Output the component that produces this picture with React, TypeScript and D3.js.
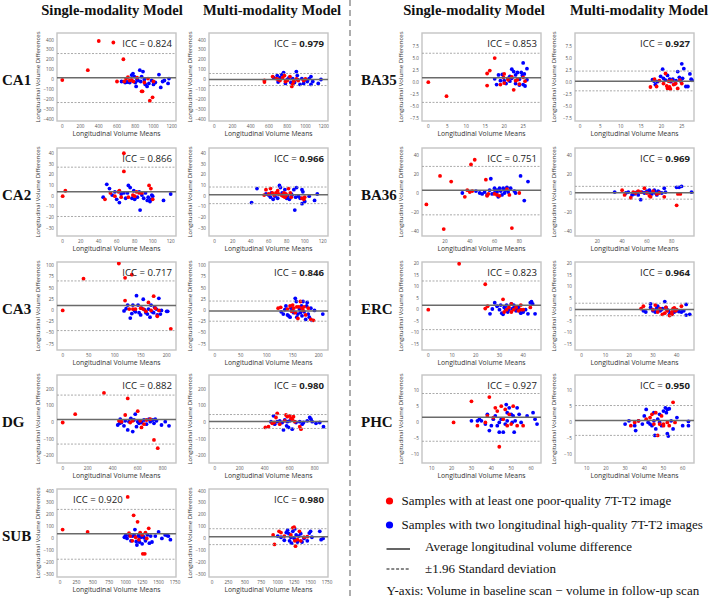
import React from 'react';
import * as d3 from 'd3';

type P = [number, number];

// ---------- Data ----------
const ICC_SINGLE = ['0.824', '0.866', '0.717', '0.882', '0.920', '0.853', '0.751', '0.823', '0.927'];
const ICC_MULTI = ['0.979', '0.966', '0.846', '0.980', '0.980', '0.927', '0.969', '0.964', '0.950'];
const REGIONS = ['CA1', 'CA2', 'CA3', 'DG', 'SUB', 'BA35', 'BA36', 'ERC', 'PHC'];

// [mean, +1.96 SD, -1.96 SD]
const STATS_SINGLE: [number, number, number][] = [
  [17, 263, -233], [4, 27, -19], [11, 66, -45], [18, 165, -130], [40, 245, -175],
  [0.9, 6.0, -4.2], [3, 28, -23], [1.9, 12.4, -8.6], [1.6, 8.9, -5.8],
];
const STATS_MULTI: [number, number, number][] = [
  [0, 61, -61], [1.3, 8.5, -7], [-1.5, 21, -24], [6, 48, -36], [15, 82, -52],
  [0.2, 2.3, -1.8], [0.3, 7, -6.5], [0.1, 2.8, -2.6], [0.6, 5.2, -4],
];

// axis domains and ticks
const X_DOM_SINGLE: P[] = [[-58, 1247], [-6.3, 125.9], [-11, 218], [-45.6, 906], [-45.7, 1765], [-1.66, 29.7], [1.45, 97.5], [-2.65, 47.5], [5.1, 65]];
const X_DOM_MULTI: P[] = [[-58, 1247], [-6.3, 125.9], [-11, 218], [-45.6, 906], [-45.7, 1765], [-1.23, 28.0], [2.0, 98], [-2.8, 47.3], [3.9, 65.9]];
const Y_DOM: P[] = [[-420, 471], [-37.2, 44.9], [-88.4, 108.3], [-244, 286], [-325, 417], [-8.06, 10.2], [-45.3, 47.4], [-17.4, 20.6], [-12.5, 14.6]];
const X_TICKS: number[][] = [
  [0, 200, 400, 600, 800, 1000, 1200], [0, 20, 40, 60, 80, 100, 120], [0, 50, 100, 150, 200],
  [0, 200, 400, 600, 800], [0, 250, 500, 750, 1000, 1250, 1500, 1750], [0, 5, 10, 15, 20, 25],
  [20, 40, 60, 80], [0, 10, 20, 30, 40], [10, 20, 30, 40, 50, 60],
];
const Y_TICKS: number[][] = [
  [-400, -300, -200, -100, 0, 100, 200, 300, 400], [-30, -20, -10, 0, 10, 20, 30, 40], [-75, -50, -25, 0, 25, 50, 75, 100],
  [-200, -100, 0, 100, 200], [-300, -200, -100, 0, 100, 200, 300, 400], [-7.5, -5, -2.5, 0, 2.5, 5, 7.5],
  [-40, -20, 0, 20, 40], [-15, -10, -5, 0, 5, 10, 15, 20], [-10, -5, 0, 5, 10],
];

// CA1
const CA1_S_RED: P[] = [[0,-5],[280,95],[400,390],[560,375],[670,205],[600,-20],[680,-20],[700,10],[720,25],[740,-10],[760,-5],[780,-20],[820,20],[870,-120],[880,-120],[900,-30],[940,10],[960,-215],[990,-180],[1000,-20]];
const CA1_S_BLUE: P[] = [[650,-20],[690,-30],[700,-25],[720,-25],[740,-30],[760,45],[775,60],[790,30],[800,-30],[810,-70],[820,0],[830,-10],[850,95],[860,-20],[870,30],[885,80],[900,0],[910,-50],[930,-70],[950,-40],[980,-10],[1000,-50],[1020,-30],[1060,50],[1080,-80],[1100,-20],[1120,-10],[1160,-40],[1170,10]];
const CA1_M_RED: P[] = [[550,-10],[550,-25],[640,30],[680,10],[700,0],[720,-10],[750,20],[770,40],[780,-20],[800,-10],[830,30],[850,-70],[860,-50],[870,-20],[900,5],[920,-10],[980,-10],[1000,5]];
const CA1_M_BLUE: P[] = [[650,20],[690,40],[700,-25],[720,20],[740,50],[760,70],[780,-40],[800,0],[820,20],[840,-30],[860,10],[880,-30],[900,80],[910,40],[920,-5],[940,-50],[960,10],[980,-40],[1000,0],[1020,-20],[1040,10],[1060,-50],[1060,30],[1080,-20],[1140,-40],[1170,0]];
// CA2
const CA2_S_RED: P[] = [[0,0],[3,5],[68,40],[68,23],[47,-3],[53,3],[58,0],[62,4],[63,5],[65,-1],[73,-1],[78,1],[80,0],[82,4],[85,3],[88,3],[96,10],[98,7],[100,-3]];
const CA2_S_BLUE: P[] = [[45,-1],[49,11],[52,7],[55,1],[58,4],[60,-3],[63,-6],[65,2],[68,3],[70,-2],[72,3],[73,10],[75,8],[77,-2],[79,5],[80,-3],[83,-1],[85,4],[86,-13],[88,1],[90,-2],[92,3],[94,-4],[95,-1],[97,-5],[98,-3],[99,1],[100,0],[112,-4],[120,2]];
const CA2_M_RED: P[] = [[55,1],[57,6],[60,2],[62,7],[64,3],[66,1],[68,3],[70,5],[71,2],[74,1],[76,0],[77,3],[78,-1],[79,2],[80,1],[82,7],[84,3],[85,-1],[97,-2],[99,-3],[100,-1]];
const CA2_M_BLUE: P[] = [[41,-6],[47,7],[57,2],[60,1],[62,-1],[63,3],[65,-3],[67,0],[70,-2],[72,10],[73,8],[75,3],[76,2],[78,6],[80,-2],[81,0],[83,-3],[85,2],[86,1],[88,6],[89,-13],[90,-1],[91,8],[93,0],[95,-2],[97,6],[97,-7],[98,4],[100,-5],[105,0],[111,-4],[114,2]];
// CA3
const CA3_S_RED: P[] = [[0,0],[40,71],[108,105],[120,73],[133,80],[120,22],[128,3],[135,3],[140,3],[150,5],[155,3],[160,-2],[165,18],[170,0],[175,32],[178,5],[182,-13],[185,0],[208,-41]];
const CA3_S_BLUE: P[] = [[118,-1],[122,4],[125,12],[130,-17],[133,-7],[135,12],[138,0],[140,-3],[142,33],[145,12],[147,-5],[150,-10],[152,5],[155,25],[157,2],[160,-5],[163,-8],[165,3],[168,-15],[170,12],[172,-3],[175,-5],[177,7],[180,3],[182,-10],[185,27],[188,-8],[190,0],[200,-2],[202,-2]];
const CA3_M_RED: P[] = [[122,5],[127,7],[140,3],[145,10],[148,-2],[150,12],[152,5],[155,-5],[158,8],[160,-18],[162,8],[165,20],[168,5],[170,0],[172,8],[175,-10],[180,5],[185,-20],[190,-22]];
const CA3_M_BLUE: P[] = [[128,-3],[132,-8],[135,2],[137,10],[140,-10],[142,-12],[145,-15],[147,5],[150,0],[152,-5],[155,27],[157,20],[158,-15],[160,-8],[163,3],[165,-5],[167,10],[168,-12],[170,20],[172,-3],[175,-20],[177,10],[178,18],[180,-8],[182,-15],[185,5],[187,-22],[192,0],[208,-8]];
// DG
const DG_S_RED: P[] = [[0,0],[100,50],[330,178],[520,145],[500,45],[600,68],[450,10],[470,5],[540,0],[560,10],[620,10],[630,-30],[650,-10],[670,15],[700,20],[730,-105],[760,-155]];
const DG_S_BLUE: P[] = [[440,-15],[455,-5],[460,20],[470,0],[490,-20],[500,10],[520,-45],[530,5],[545,25],[560,-55],[570,15],[580,50],[590,-25],[600,5],[610,-5],[630,0],[650,15],[670,-10],[690,20],[700,5],[720,15],[730,-5],[740,20],[750,10],[790,-15],[820,5],[850,-20]];
const DG_M_RED: P[] = [[405,-30],[430,-25],[460,-5],[475,0],[490,30],[500,55],[520,-10],[560,10],[570,45],[580,35],[600,40],[610,25],[620,20],[630,35],[640,5],[680,-25],[690,-40]];
const DG_M_BLUE: P[] = [[450,5],[470,40],[480,-10],[500,5],[520,10],[540,0],[550,-45],[560,15],[575,-20],[580,5],[590,-30],[600,10],[620,-40],[650,0],[680,5],[700,-10],[710,0],[740,10],[760,30],[770,20],[780,5],[810,-5],[840,0],[870,-25]];
// SUB
const SUB_S_RED: P[] = [[40,75],[420,55],[1030,350],[1120,195],[1180,140],[1050,45],[1070,20],[1100,-20],[1150,10],[1200,-10],[1220,50],[1250,30],[1260,-130],[1290,-130],[1300,50],[1320,0],[1350,85]];
const SUB_S_BLUE: P[] = [[980,10],[1000,25],[1020,0],[1050,25],[1080,-20],[1100,20],[1130,25],[1140,75],[1160,-25],[1170,-55],[1190,20],[1200,30],[1210,-30],[1230,10],[1250,-45],[1270,15],[1280,5],[1300,-20],[1330,30],[1360,-40],[1380,20],[1400,-30],[1450,20],[1500,55],[1550,0],[1600,30],[1630,25],[1650,20],[1680,-10]];
const SUB_M_RED: P[] = [[950,-50],[930,30],[1020,60],[1050,50],[1100,20],[1200,30],[1230,90],[1250,95],[1270,-65],[1260,-20],[1300,-10],[1330,60],[1350,-20],[1400,10],[1450,15]];
const SUB_M_BLUE: P[] = [[1000,20],[1050,10],[1100,-15],[1130,50],[1150,70],[1170,40],[1180,-20],[1200,10],[1210,-40],[1230,60],[1250,0],[1260,80],[1280,30],[1300,-30],[1320,20],[1350,40],[1370,-30],[1400,0],[1450,-20],[1480,45],[1500,60],[1520,10],[1640,60],[1660,-10],[1690,0]];
// BA35
const BA35_S_RED: P[] = [[0,0],[4.8,-2.9],[15.5,1.8],[15.5,-0.7],[16.2,2.4],[17.5,5.0],[19,-0.5],[19.8,1.0],[20,-0.2],[20,1.7],[21,0.5],[22,1.1],[22.5,-1.6],[23,0.3],[23.5,0.5],[24,-0.4],[25,1.0],[25.5,0.2]];
const BA35_S_BLUE: P[] = [[17.5,0.7],[18,-0.5],[18.5,1.5],[19,0.3],[19.5,1.6],[20,0.3],[20.5,-0.3],[21,0.8],[21.5,1.2],[21.5,0.2],[22,2.7],[22,0.8],[22.5,2.2],[23,1.5],[23,-0.3],[23.5,2.0],[24,0.6],[24,-0.6],[24.5,2.0],[24.8,1.4],[25,4.0],[25,-0.5],[25.3,1.7],[25.5,-0.8],[26,0.5],[26,2.8]];
const BA35_M_RED: P[] = [[17.3,-1.0],[18.3,0.6],[18.8,-0.9],[19.5,0.3],[20.5,-0.3],[21,1.8],[21.3,-0.8],[21.5,-1.3],[21.8,0.2],[22,-1.0],[22.2,-1.4],[22.5,0.3],[23,-0.5],[23.5,-0.3],[24,-1.3],[24.5,0.4],[25,-0.3]];
const BA35_M_BLUE: P[] = [[17.8,0.5],[18.2,0.2],[18.5,-0.5],[19,0.1],[19.8,1.2],[20.3,2.7],[20.5,0.8],[21,0.4],[21.5,1.4],[22,0.6],[22.3,0.1],[22.8,0.6],[23.2,-0.4],[23.6,0.3],[24,2.2],[24.4,1.0],[24.8,0.2],[25,3.8],[25.2,0.8],[25.5,2.8],[26,-0.9],[26.5,-0.9],[27,1.7],[27.3,0.6],[27.5,0.4]];
// BA36
const BA36_S_RED: P[] = [[5,-12],[16,18],[19,-38],[25,12],[36,-4],[38,3],[40,1],[41,30],[42,2],[44,35],[53,14],[54,-3],[55,-1],[60,-1],[62,-2],[64,-3],[70,4],[72,-2],[74,-37],[80,0]];
const BA36_S_BLUE: P[] = [[34,0],[45,2],[48,0],[50,-1],[52,1],[54,-2],[56,3],[57,15],[58,-1],[60,0],[60,5],[62,3],[62,1],[63,-4],[64,5],[65,2],[66,-2],[67,5],[68,0],[69,3],[70,6],[71,1],[73,5],[76,2],[77,0],[81,18],[84,-8],[87,12]];
const BA36_M_RED: P[] = [[40,3],[42,-2],[47,-5],[49,1],[51,0],[53,2],[55,1],[58,5],[60,0],[62,-3],[63,-4],[65,2],[68,-1],[70,0],[74,-4],[84,-13],[85,-1],[87,-1]];
const BA36_M_BLUE: P[] = [[34,1],[43,0],[45,1],[48,-2],[50,-1],[52,1],[53,-2],[55,-7],[56,1],[58,0],[60,2],[61,1],[62,3],[63,0],[64,-1],[65,1],[66,3],[67,0],[68,-2],[69,2],[70,1],[72,0],[74,5],[75,1],[84,6],[86,6],[88,7],[96,1]];
// ERC
const ERC_S_RED: P[] = [[0,0],[13,19.8],[24,11],[24,0.5],[25,1.5],[31.5,4.5],[32,-1],[33,0],[34,1],[35,2.5],[35,-1],[36,0],[37,1],[38,-0.5],[39,0],[39,2],[40,0],[43,1]];
const ERC_S_BLUE: P[] = [[26,-1.8],[27,0.3],[28,3],[29,1.5],[30,0],[30.5,2],[31,-1.5],[31.5,-2],[32,1],[32.5,0.5],[33,2],[33.5,-1],[34,0],[35,2.5],[35.5,0.5],[36,2],[36.5,1],[37,-0.5],[37.5,0.5],[38,1],[38.5,-0.5],[39,-1.5],[40,-1],[41,0],[42,-1.8],[43,3],[43.5,3.5],[44,2.5],[45,-1.8]];
const ERC_M_RED: P[] = [[25,0.5],[26,1.5],[30,0],[31,2],[32,-1],[33,0.5],[34,-2],[35,-1.5],[35.5,1],[36,-0.5],[37,-2.5],[38,-1],[38,-2],[38.5,0.5],[39,0.8],[39.5,-0.5],[40,0],[42,1.5]];
const ERC_M_BLUE: P[] = [[26,-0.5],[27,-1],[29,2.5],[29,1],[30,-0.5],[31,-1],[31.5,0.5],[32,1.5],[33,-0.5],[33.5,0],[34,0.5],[35,3.5],[35.5,1],[36,0],[36.5,-0.5],[37,-2],[37.5,-1.5],[38,-2],[39,-1],[40,-0.5],[41,-0.8],[42,-1],[43,-0.5],[44,2.3],[44,-2.3],[45.5,-2]];
// PHC
const PHC_S_RED: P[] = [[21,0],[30,6.5],[33,-1],[37,0],[38,2],[39,7.8],[41,1.5],[42,4.5],[43,3.5],[44,-7.5],[45,5],[46,1],[47,4],[48,-1],[49,2.5],[50,-0.5],[51,5],[53,-1],[56,-1]];
const PHC_S_BLUE: P[] = [[30,0.5],[33,0.5],[34,1],[35,0.5],[37,-0.5],[38,2.5],[39,-2.5],[40,-1],[41,1],[42,2],[43,-1],[44,-3],[44,0],[45,1],[46,-3],[47,-0.5],[47.5,5.5],[48,0.5],[48,3],[49,4.5],[50,2.5],[50.5,0],[51,2],[51.5,-3],[52,0.5],[53,4.5],[54,2.5],[55,0],[58,2],[61,3],[62,1],[63,-0.5]];
const PHC_M_RED: P[] = [[33,-1],[35,0],[37,0.5],[41,1],[43,1.5],[44,2.5],[45,-0.5],[46,3],[47,-4],[48,-0.5],[49,2],[50,-1],[50,-0.5],[52,0],[53,-1],[55,6.2],[56,0]];
const PHC_M_BLUE: P[] = [[30,-0.5],[32,0.5],[35,-1],[35.5,-2.5],[37,0.5],[39,-0.5],[40,2],[41,4],[42,0],[43,-0.5],[44,-1],[45,3],[45,0.5],[45.5,-4],[46,-2],[47,1],[48,2.5],[48,0],[49,-1],[50,3.5],[51,4.5],[51.5,3],[52,4],[52,-3.5],[52.5,-4.2],[53,4.2],[54,0.5],[55,-2],[57,1.5],[60,-1],[63,-1],[63,0.3]];

const SINGLE_RED = [CA1_S_RED, CA2_S_RED, CA3_S_RED, DG_S_RED, SUB_S_RED, BA35_S_RED, BA36_S_RED, ERC_S_RED, PHC_S_RED];
const SINGLE_BLUE = [CA1_S_BLUE, CA2_S_BLUE, CA3_S_BLUE, DG_S_BLUE, SUB_S_BLUE, BA35_S_BLUE, BA36_S_BLUE, ERC_S_BLUE, PHC_S_BLUE];
const MULTI_RED = [CA1_M_RED, CA2_M_RED, CA3_M_RED, DG_M_RED, SUB_M_RED, BA35_M_RED, BA36_M_RED, ERC_M_RED, PHC_M_RED];
const MULTI_BLUE = [CA1_M_BLUE, CA2_M_BLUE, CA3_M_BLUE, DG_M_BLUE, SUB_M_BLUE, BA35_M_BLUE, BA36_M_BLUE, ERC_M_BLUE, PHC_M_BLUE];

const LEGEND_ITEMS = [
  'Samples with at least one poor-quality 7T-T2 image',
  'Samples with two longitudinal high-quality 7T-T2 images',
  'Average longitudinal volume difference',
  '\u00B11.96 Standard deviation',
];
const NOTE = 'Y-axis: Volume in baseline scan \u2212 volume in follow-up scan';

// ---------- Layout ----------
const W = 710, H = 600;
const BW = 119, BH = 88;
const ROW_TOPS = [33, 148, 262, 375, 489];
const SERIF = "'Liberation Serif', 'Times New Roman', serif";
const SANS = "'Open Sans', 'DejaVu Sans', sans-serif";
const RED = '#ff0000', BLUE = '#0000ff';

const fmtTick = (v: number, dec: boolean) => {
  const s = dec ? v.toFixed(1) : String(v);
  return s.replace('-', '\u2212');
};

interface PanelProps {
  idx: number; left: number; top: number; multi: boolean; right: boolean;
}

function Panel({ idx, left, top, multi, right }: PanelProps) {
  const xs = d3.scaleLinear().domain(multi ? X_DOM_MULTI[idx] : X_DOM_SINGLE[idx]).range([left, left + BW]);
  const ys = d3.scaleLinear().domain(Y_DOM[idx]).range([top + BH, top]);
  const st = multi ? STATS_MULTI[idx] : STATS_SINGLE[idx];
  const red = multi ? MULTI_RED[idx] : SINGLE_RED[idx];
  const blue = multi ? MULTI_BLUE[idx] : SINGLE_BLUE[idx];
  const dec = idx === 5;
  const clipId = `clip-${idx}-${multi ? 'm' : 's'}`;
  const icc = multi ? ICC_MULTI[idx] : ICC_SINGLE[idx];
  const iccAtLeft = !multi && idx === 4;
  const ylabX = left - (right ? 19 : 17);
  return (
    <g>
      <defs>
        <clipPath id={clipId}><rect x={left} y={top} width={BW} height={BH} /></clipPath>
      </defs>
      <rect x={left} y={top} width={BW} height={BH} fill="#fff" stroke="#c4c4c4" strokeWidth={1.4} />
      {Y_TICKS[idx].map((t) => (
        <text key={'y' + t} x={left - 3} y={ys(t) + 1.6} fontSize={4.6} fill="#555" textAnchor="end" fontFamily={SANS}>
          {fmtTick(t, dec)}
        </text>
      ))}
      {X_TICKS[idx].map((t) => (
        <text key={'x' + t} x={xs(t)} y={top + BH + 6.5} fontSize={4.6} fill="#555" textAnchor="middle" fontFamily={SANS}>
          {fmtTick(t, false)}
        </text>
      ))}
      <g clipPath={`url(#${clipId})`}>
        {blue.map((p, i) => <circle key={'b' + i} cx={xs(p[0])} cy={ys(p[1])} r={1.9} fill={BLUE} />)}
        {red.map((p, i) => <circle key={'r' + i} cx={xs(p[0])} cy={ys(p[1])} r={1.9} fill={RED} />)}
        <line x1={left} x2={left + BW} y1={ys(st[0])} y2={ys(st[0])} stroke="#6a6a6a" strokeWidth={1.5} />
        <line x1={left} x2={left + BW} y1={ys(st[1])} y2={ys(st[1])} stroke="#a0a0a0" strokeWidth={0.9} strokeDasharray="2,1.5" />
        <line x1={left} x2={left + BW} y1={ys(st[2])} y2={ys(st[2])} stroke="#a0a0a0" strokeWidth={0.9} strokeDasharray="2,1.5" />
      </g>
      <text
        x={iccAtLeft ? left + 16 : left + BW - 4}
        y={top + 13.5}
        fontSize={9.6}
        fontFamily={SANS}
        fill="#222"
        textAnchor={iccAtLeft ? 'start' : 'end'}
      >
        {'ICC = '}
        <tspan fontWeight={multi ? 'bold' : 'normal'}>{icc}</tspan>
      </text>
      <text x={left + BW / 2} y={top + BH + 14.5} fontSize={6.8} fontFamily={SANS} fill="#333" textAnchor="middle">
        Longitudinal Volume Means
      </text>
      <text
        transform={`translate(${ylabX},${top + BH / 2}) rotate(-90)`}
        fontSize={6}
        fontFamily={SANS}
        fill="#333"
        textAnchor="middle"
      >
        Longitudinal Volume Differences
      </text>
    </g>
  );
}

export default function App() {
  const panels: JSX.Element[] = [];
  const labels: JSX.Element[] = [];
  REGIONS.forEach((name, idx) => {
    const right = idx >= 5;
    const row = right ? idx - 5 : idx;
    const top = ROW_TOPS[row];
    const lS = right ? 422 : 57;
    const lM = right ? 575 : 209;
    panels.push(<Panel key={name + 's'} idx={idx} left={lS} top={top} multi={false} right={right} />);
    panels.push(<Panel key={name + 'm'} idx={idx} left={lM} top={top} multi={true} right={right} />);
    labels.push(
      <text key={name} x={right ? 361 : 2} y={top + 51.5} fontSize={15} fontWeight="bold" fontFamily={SERIF} fill="#111">
        {name}
      </text>
    );
  });

  const legendY = [501, 525, 549, 569];
  return (
    <svg width={W} height={H} style={{ position: 'absolute', left: 0, top: 0, background: '#fff' }}>
      <rect width={W} height={H} fill="#fff" />
      {/* column titles */}
      {[112, 272, 474, 639].map((cx, i) => (
        <text key={'t' + i} x={cx} y={15} fontSize={14.6} fontWeight="bold" fontFamily={SERIF} textAnchor="middle" fill="#111">
          {i % 2 === 0 ? 'Single-modality Model' : 'Multi-modality Model'}
        </text>
      ))}
      <line x1={350} x2={350} y1={0} y2={H} stroke="#777" strokeWidth={1.2} strokeDasharray="6,4" />
      {labels}
      {panels}
      {/* legend */}
      <circle cx={389.5} cy={legendY[0]} r={3.6} fill={RED} />
      <text x={401.5} y={legendY[0] + 4.3} fontSize={13} fontFamily={SERIF} fill="#111">{LEGEND_ITEMS[0]}</text>
      <circle cx={389.5} cy={legendY[1]} r={3.6} fill={BLUE} />
      <text x={401.5} y={legendY[1] + 4.3} fontSize={13} fontFamily={SERIF} fill="#111">{LEGEND_ITEMS[1]}</text>
      <line x1={386.5} x2={410} y1={legendY[2]} y2={legendY[2]} stroke="#111" strokeWidth={1.3} />
      <text x={425} y={legendY[2] + 2} fontSize={13} fontFamily={SERIF} fill="#111">{LEGEND_ITEMS[2]}</text>
      <line x1={386.5} x2={410} y1={legendY[3]} y2={legendY[3]} stroke="#111" strokeWidth={1} strokeDasharray="3,1.8" />
      <text x={425} y={legendY[3] + 3.5} fontSize={13} fontFamily={SERIF} fill="#111">{LEGEND_ITEMS[3]}</text>
      <text x={386.5} y={595} fontSize={13} fontFamily={SERIF} fill="#111">{NOTE}</text>
    </svg>
  );
}
